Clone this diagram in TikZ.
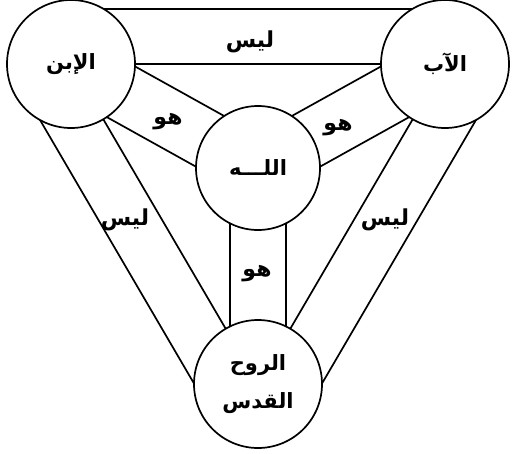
\documentclass[tikz,border=0pt]{standalone}
\usepackage{fontspec}
\newfontfamily\arabicfont[Script=Arabic]{DejaVu Sans}
\TeXXeTstate=1
\usetikzlibrary{calc,backgrounds}
\tikzset{
  person/.style={circle, draw, fill=white, line width=1.7pt, minimum size=128pt, inner sep=0pt, align=center, font=\arabicfont\bfseries\fontsize{21}{38}\selectfont},
  band/.style={line width=1.7pt},
  lbl/.style={font=\arabicfont\bfseries\fontsize{22}{24}\selectfont, inner sep=0pt}
}
\begin{document}
\begin{tikzpicture}[x=1pt,y=-1pt]
\useasboundingbox (0,0) rectangle (514,453);
\node[person] (son) at (71,64) {\beginR الإبن\endR};
\node[person] (father) at (445,64) {\beginR الآب\endR};
\node[person, minimum size=124pt] (god) at (258,168) {\beginR اللـــه\endR};
\node[person] (spirit) at (258,384) {\beginR الروح\endR\\\beginR القدس\endR};
\begin{pgfonlayer}{background}
  % is-not bands
  \draw[band] (son.center) -- (father.center);
  \draw[band] ($(son.center)!55pt!90:(father.center)$) -- ($(father.center)!55pt!-90:(son.center)$);
  \draw[band] (son.center) -- (spirit.center);
  \draw[band] ($(son.center)!55pt!-90:(spirit.center)$) -- ($(spirit.center)!55pt!90:(son.center)$);
  \draw[band] (father.center) -- (spirit.center);
  \draw[band] ($(father.center)!55pt!90:(spirit.center)$) -- ($(spirit.center)!55pt!-90:(father.center)$);
  % is bands
  \draw[band] ($(son.center)!29pt!90:(god.center)$) -- ($(god.center)!29pt!-90:(son.center)$);
  \draw[band] ($(son.center)!29pt!-90:(god.center)$) -- ($(god.center)!29pt!90:(son.center)$);
  \draw[band] ($(father.center)!29pt!90:(god.center)$) -- ($(god.center)!29pt!-90:(father.center)$);
  \draw[band] ($(father.center)!29pt!-90:(god.center)$) -- ($(god.center)!29pt!90:(father.center)$);
  \draw[band] ($(god.center)!28pt!90:(spirit.center)$) -- ($(spirit.center)!28pt!-90:(god.center)$);
  \draw[band] ($(god.center)!28pt!-90:(spirit.center)$) -- ($(spirit.center)!28pt!90:(god.center)$);
\end{pgfonlayer}
\node[lbl] (ntop) at (250,42) {\beginR ليس\endR};
\node[lbl] (nleft) at (125,220) {\beginR ليس\endR};
\node[lbl] (nright) at (385,220) {\beginR ليس\endR};
\node[lbl] (isl) at (168,122) {\beginR هو\endR};
\node[lbl] (isr) at (338,128) {\beginR هو\endR};
\node[lbl] (isb) at (257,274) {\beginR هو\endR};
\end{tikzpicture}
\end{document}
